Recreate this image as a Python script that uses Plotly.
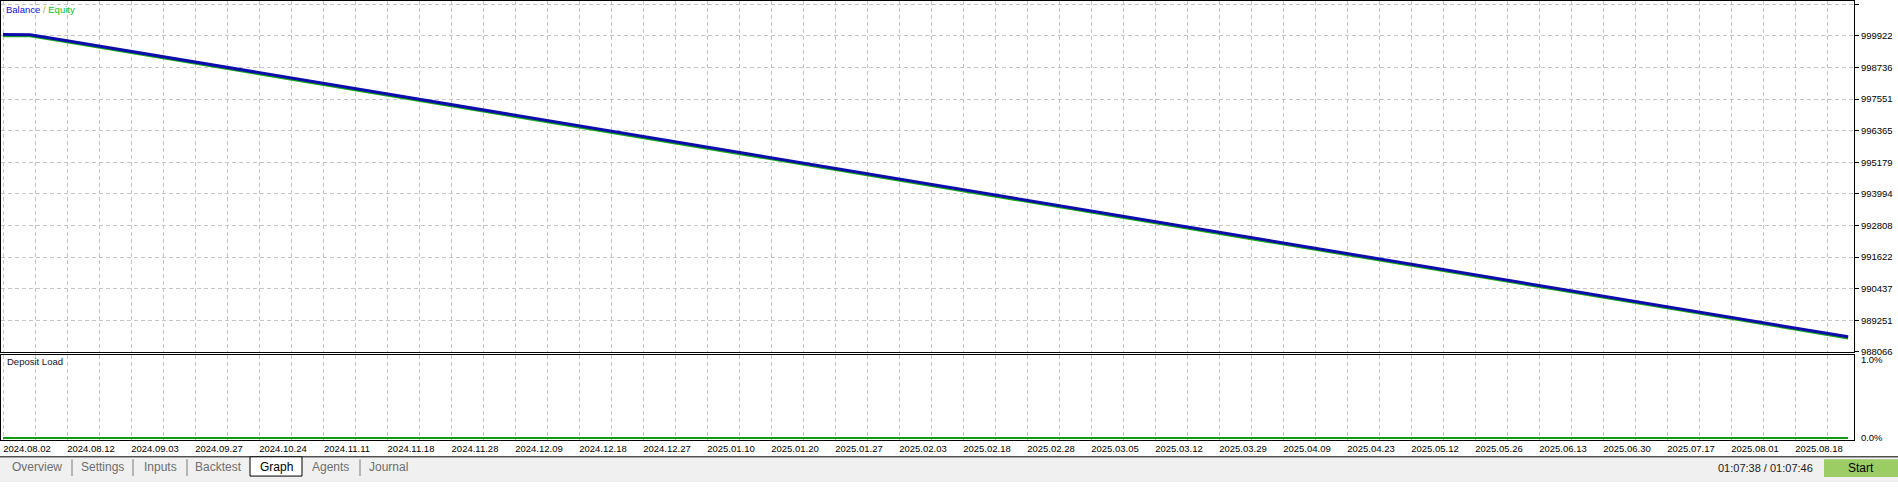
import plotly.graph_objects as go

# ---------------- data ----------------
date_labels = ["2024.08.02", "2024.08.12", "2024.09.03", "2024.09.27", "2024.10.24", "2024.11.11",
               "2024.11.18", "2024.11.28", "2024.12.09", "2024.12.18", "2024.12.27", "2025.01.10",
               "2025.01.20", "2025.01.27", "2025.02.03", "2025.02.18", "2025.02.28", "2025.03.05",
               "2025.03.12", "2025.03.29", "2025.04.09", "2025.04.23", "2025.05.12", "2025.05.26",
               "2025.06.13", "2025.06.30", "2025.07.17", "2025.08.01", "2025.08.18"]

# position along the deal axis (one unit = one vertical grid step)
x_pos = [0, 0.85, 2, 4, 6, 8, 10, 12, 14, 16, 18, 20, 22, 24, 26, 28, 30, 32, 34, 36, 38, 40,
         42, 44, 46, 48, 50, 52, 54, 56, 57.66]

balance = [999970, 999965, 999739, 999340, 998941, 998542, 998143, 997744, 997345, 996946,
           996546, 996147, 995748, 995349, 994950, 994551, 994152, 993753, 993354, 992954,
           992555, 992156, 991757, 991358, 990959, 990560, 990161, 989762, 989363, 988963, 988632]

equity = [999930, 999925, 999699, 999300, 998901, 998502, 998103, 997704, 997305, 996906,
          996506, 996107, 995708, 995309, 994910, 994511, 994112, 993713, 993314, 992914,
          992515, 992116, 991717, 991318, 990919, 990520, 990121, 989722, 989323, 988923, 988592]

deposit_load = [0, 0, 0, 0, 0, 0, 0, 0, 0, 0, 0, 0, 0, 0, 0, 0, 0, 0, 0, 0, 0, 0, 0, 0, 0, 0,
                0, 0, 0, 0, 0]

y_tick_vals = [1001107, 999922, 998736, 997551, 996365, 995179, 993994, 992808, 991622,
               990437, 989251, 988066]
load_tick_vals = [0, 1]
load_tick_text = ["0.0%", "1.0%"]

tab_names = ["Overview", "Settings", "Inputs", "Backtest", "Graph", "Agents", "Journal"]
tab_centers = [37, 102, 160, 218, 276, 330, 388]
tab_separators = [72, 133, 187, 360]

# ---------------- layout helpers ----------------
W, H = 1898, 487
FONT = "Liberation Sans"


def fx(p):
    return p / W


def fy(p):
    return 1 - p / H


n_grid = 58
grid_ticks = list(range(n_grid))
x_ticktext = [date_labels[k // 2] if k % 2 == 0 else "" for k in grid_ticks]
x_range = [(1 - 3) / 32, (1854 - 3) / 32]

GRID = "#c6c6c6"
DASH = "4px,3px"

fig = go.Figure()
fig.add_trace(go.Scatter(x=x_pos, y=equity, mode="lines", name="Equity",
                         line=dict(color="#16a816", width=3), xaxis="x", yaxis="y"))
fig.add_trace(go.Scatter(x=x_pos, y=balance, mode="lines", name="Balance",
                         line=dict(color="#0c0cac", width=3), xaxis="x", yaxis="y"))
fig.add_trace(go.Scatter(x=x_pos, y=deposit_load, mode="lines", name="Deposit Load",
                         line=dict(color="#139b13", width=2), xaxis="x2", yaxis="y2"))

common_x = dict(range=x_range, tickvals=grid_ticks, showgrid=True, gridcolor=GRID,
                griddash=DASH, gridwidth=1, showline=True, mirror=True, linecolor="black",
                linewidth=1, zeroline=False, ticks="", fixedrange=True)

fig.update_layout(
    width=W, height=H, margin=dict(l=0, r=0, t=0, b=0),
    paper_bgcolor="white", plot_bgcolor="white", showlegend=False,
    font=dict(family=FONT, size=10, color="black"),
    xaxis=dict(domain=[fx(1), fx(1854)], anchor="y", showticklabels=False, **common_x),
    yaxis=dict(domain=[fy(355.3), fy(0)], anchor="x", side="right",
               range=[988066, 1001229], tickvals=y_tick_vals,
               ticktext=[str(v) for v in y_tick_vals],
               showgrid=True, gridcolor=GRID, griddash=DASH, gridwidth=1,
               showline=True, mirror=True, linecolor="black", linewidth=1,
               zeroline=False, ticks="outside", ticklen=4, tickcolor="black",
               tickfont=dict(family=FONT, size=9.5, color="black"), fixedrange=True),
    xaxis2=dict(domain=[fx(1), fx(1854)], anchor="y2", showticklabels=True,
                ticktext=x_ticktext, ticklabelshift=24, tickangle=0,
                tickfont=dict(family=FONT, size=9.5, color="black"), **common_x),
    yaxis2=dict(domain=[fy(444), fy(358)], anchor="x2", side="right",
                range=[-0.02, 1.066], tickvals=load_tick_vals, ticktext=load_tick_text,
                showgrid=False, showline=True, mirror=True, linecolor="black",
                linewidth=1, zeroline=False, ticks="outside", ticklen=4,
                tickcolor="rgba(0,0,0,0)",
                tickfont=dict(family=FONT, size=9.5, color="black"), fixedrange=True),
)

shapes = []
annotations = []

# panel captions
annotations.append(dict(
    xref="paper", yref="paper", x=fx(4), y=fy(9), xanchor="left", yanchor="middle",
    showarrow=False, font=dict(family=FONT, size=9.5),
    text="<span style='color:#1010e0'>Balance</span><span style='color:#d0a000'> / </span>"
         "<span style='color:#10c010'>Equity</span>"))
annotations.append(dict(
    xref="paper", yref="paper", x=fx(5), y=fy(365), xanchor="left", yanchor="middle",
    showarrow=False, text="Deposit Load", font=dict(family=FONT, size=9.5, color="#101030")))

# bottom tab bar
shapes.append(dict(type="rect", xref="paper", yref="paper", x0=0, x1=1, y0=0, y1=fy(461.5),
                   fillcolor="#f0f0f0", line=dict(width=0), layer="above"))
shapes.append(dict(type="line", xref="paper", yref="paper", x0=0, x1=1, y0=fy(461.5),
                   y1=fy(461.5), line=dict(color="black", width=1), layer="above"))
shapes.append(dict(type="rect", xref="paper", yref="paper", x0=fx(250), x1=fx(302),
                   y0=fy(481), y1=fy(461.5), fillcolor="white",
                   line=dict(color="black", width=1), layer="above"))
for sx in tab_separators:
    shapes.append(dict(type="line", xref="paper", yref="paper", x0=fx(sx), x1=fx(sx),
                       y0=fy(481), y1=fy(464), line=dict(color="#7a7a7a", width=1),
                       layer="above"))
for name, cx in zip(tab_names, tab_centers):
    annotations.append(dict(
        xref="paper", yref="paper", x=fx(cx), y=fy(471.5), xanchor="center",
        yanchor="middle", showarrow=False, text=name,
        font=dict(family=FONT, size=12, color="black" if name == "Graph" else "#6e6e6e")))

# timer and start button
annotations.append(dict(
    xref="paper", yref="paper", x=fx(1815), y=fy(473), xanchor="right", yanchor="middle",
    showarrow=False, text="01:07:38 / 01:07:46", font=dict(family=FONT, size=11,
                                                           color="#202020")))
shapes.append(dict(type="rect", xref="paper", yref="paper", x0=fx(1824), x1=1,
                   y0=fy(482), y1=fy(464), fillcolor="#9bcd64", line=dict(width=0),
                   layer="above"))
annotations.append(dict(
    xref="paper", yref="paper", x=fx(1861), y=fy(473), xanchor="center", yanchor="middle",
    showarrow=False, text="Start", font=dict(family=FONT, size=12, color="black")))

fig.update_layout(shapes=shapes, annotations=annotations)

fig.write_html("out.html", config={"displayModeBar": False},
               post_script="document.body.style.margin='0px';"
                           "document.body.style.overflow='hidden';")
